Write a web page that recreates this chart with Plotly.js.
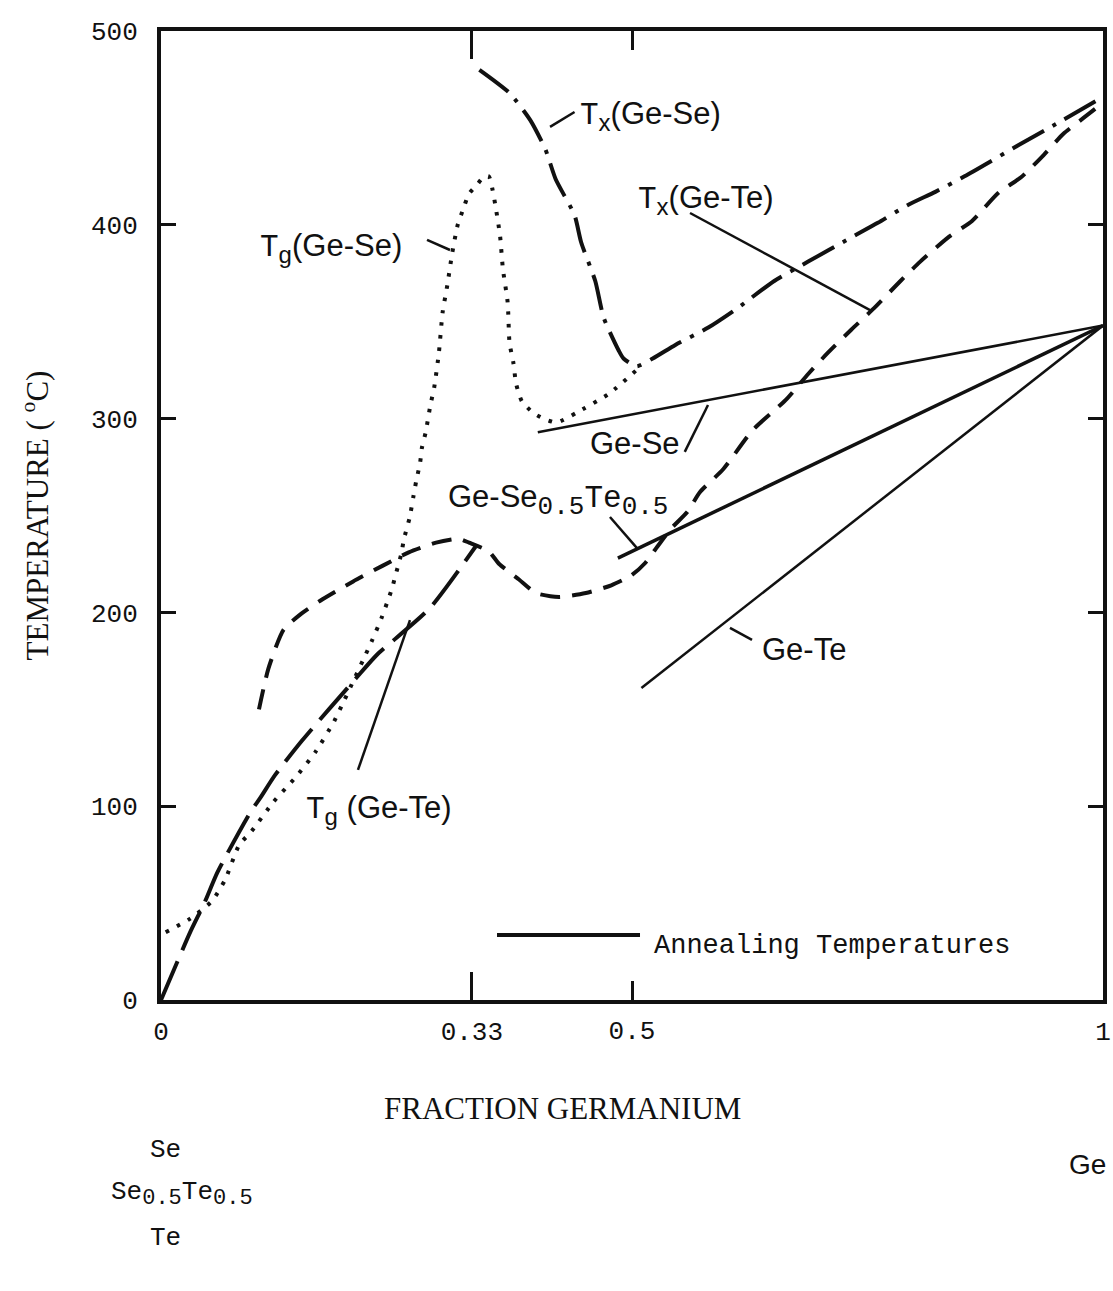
<!DOCTYPE html>
<html>
<head>
<meta charset="utf-8">
<script src="https://cdn.plot.ly/plotly-3.0.1.min.js"></script>
<style>html,body{margin:0;padding:0;background:#fff;}#chart{width:1113px;height:1291px;}</style>
</head>
<body>
<div id="chart"></div>
<script>
// ---- Data (fraction Ge, temperature °C) ----
var tgGeSeX = [0.005,0.031,0.054,0.068,0.083,0.096,0.119,0.143,0.164,0.184,0.192,0.217,0.2245,0.234,0.240,0.245,0.250,0.255,0.258,0.264,0.268,0.271,0.275,0.277,0.281,0.286,0.290,0.295,0.299,0.304,0.309,0.315,0.320,0.327,0.336,0.343,0.348,0.352,0.356,0.360,0.363,0.368,0.370,0.374,0.377,0.383,0.395,0.406,0.420,0.441,0.476,0.507];
var tgGeSeY = [35,42,51,62,80,87,102,115,128,144,152,178,186,197,205,212,221,230,238,249,260,268,277,285,293,307,316,334,355,369,385,400,407,416,421,425,425,418,407,394,377,360,339,329,318,309,303,300,298,303,313,326];

var tgGeTeX = [0,0.031,0.046,0.060,0.095,0.105,0.121,0.150,0.207,0.229,0.285,0.334];
var tgGeTeY = [0,35,50,66,97,104,116,134,166,178,202,234];

var txGeTeX = [0.104,0.114,0.130,0.148,0.169,0.204,0.235,0.263,0.292,0.316,0.327,0.348,0.359,0.380,0.398,0.4225,0.451,0.478,0.499,0.514,0.527,0.541,0.559,0.572,0.597,0.628,0.663,0.687,0.708,0.733,0.757,0.785,0.806,0.837,0.861,0.889,0.913,0.937,0.958,0.979,1.0];
var txGeTeY = [150,171,191,199,206,216,224,231,236,238,236,231.5,225,217,210,208,210,214,219,225.5,234,243,252,262,274,294,309.5,323,334,346,357,371,381,394,402,416.5,424.5,436,447,455,463];

var txGeSeX = [0.338,0.370,0.392,0.408,0.419,0.439,0.446,0.461,0.470,0.486,0.491,0.505,0.522,0.546,0.581,0.612,0.651,0.687,0.731,0.761,0.792,0.822,0.853,0.910,0.950,1.0];
var txGeSeY = [480,468,454,439,423.5,405,391,371,352,335,331,327,331,338,347,357,371,381,393,401,410,417,425,441,452,466];

var annealGeSeX = [0.40, 1.0],   annealGeSeY = [293, 348];
var annealGeSeTeX = [0.485, 1.0], annealGeSeTeY = [228, 348];
var annealGeTeX = [0.51, 1.0],   annealGeTeY = [161, 348];

var xTickVals = [0, 0.33, 1], xTickText = ['0', '0.33', '1'];
var xTickVals2 = [0.5], xTickText2 = ['0.5'];
var yTickVals = [0, 100, 200, 300, 400, 500];
var yTickText = ['0', '100', '200', '300', '400', '500'];

// ---- Fonts ----
var MONO = 'Liberation Mono, DejaVu Sans Mono, monospace';
var SANS = 'Liberation Sans, Arial, sans-serif';
var SERIF = 'Liberation Serif, Times New Roman, serif';
function mono(t){ return '<span style="font-family:' + MONO + '">' + t + '</span>'; }
function bigsub(t, px){ return '<sub><span style="font-size:' + px + 'px">' + t + '</span></sub>'; }

var BLK = '#111';

var traces = [
  {x: tgGeSeX, y: tgGeSeY, mode: 'lines', line: {color: BLK, width: 4, dash: '3.5px,9px', shape: 'spline', smoothing: 0.6}, hoverinfo: 'skip'},
  {x: tgGeTeX, y: tgGeTeY, mode: 'lines', line: {color: BLK, width: 4, dash: '42px,12px', shape: 'spline', smoothing: 0.6}, hoverinfo: 'skip'},
  {x: txGeTeX, y: txGeTeY, mode: 'lines', line: {color: BLK, width: 4, dash: '20px,12px', shape: 'spline', smoothing: 0.6}, hoverinfo: 'skip'},
  {x: txGeSeX, y: txGeSeY, mode: 'lines', line: {color: BLK, width: 4, dash: '36px,10px,4px,10px', shape: 'spline', smoothing: 0.6}, hoverinfo: 'skip'},
  {x: annealGeSeX, y: annealGeSeY, xaxis: 'x2', mode: 'lines', line: {color: BLK, width: 2.5}, hoverinfo: 'skip'},
  {x: annealGeSeTeX, y: annealGeSeTeY, xaxis: 'x2', mode: 'lines', line: {color: BLK, width: 3.5}, hoverinfo: 'skip'},
  {x: annealGeTeX, y: annealGeTeY, xaxis: 'x2', mode: 'lines', line: {color: BLK, width: 2.5}, hoverinfo: 'skip'}
];

function txt(x, y, text, size, family, extra){
  var a = {x: x, y: y, xref: 'x', yref: 'y', text: text, showarrow: false,
           xanchor: 'left', yanchor: 'middle', font: {family: family || SANS, size: size || 30, color: BLK}};
  if (extra) for (var k in extra) a[k] = extra[k];
  return a;
}
function ptxt(x, y, text, size, family, extra){
  var a = txt(x, y, text, size, family, extra);
  a.xref = 'paper'; a.yref = 'paper';
  return a;
}
function pointer(x0, y0, x1, y1, w){
  return {type: 'line', xref: 'x', yref: 'y', x0: x0, y0: y0, x1: x1, y1: y1,
          line: {color: BLK, width: w || 2.5}};
}

var annotations = [
  txt(0.443, 456, mono('T') + bigsub('x', 24) + '(Ge-Se)', 31),
  txt(0.504, 413, mono('T') + bigsub('x', 24) + '(Ge-Te)', 31),
  txt(0.103, 388, mono('T') + bigsub('g', 24) + '(Ge-Se)', 31),
  txt(0.453, 287, 'Ge-Se', 31),
  txt(0.303, 258, 'Ge-Se' + mono(bigsub('0.5', 26) + 'Te' + bigsub('0.5', 26)), 31),
  txt(0.636, 181, 'Ge-Te', 31),
  txt(0.152, 98, mono('T') + bigsub('g', 24) + ' (Ge-Te)', 31),
  txt(0.521, 28, 'Annealing Temperatures', 27, MONO),
  ptxt(0.4257, -0.1115, 'FRACTION GERMANIUM', 31, SERIF, {xanchor: 'center'}),
  ptxt(-0.014, -0.155, 'Se', 26, MONO),
  ptxt(-0.055, -0.200, 'Se' + bigsub('0.5', 22) + 'Te' + bigsub('0.5', 22), 26, MONO),
  ptxt(-0.014, -0.246, 'Te', 26, MONO),
  ptxt(0.962, -0.170, 'Ge', 28, SANS)
];

var shapes = [
  pointer(0.413, 450.5, 0.439, 458.2),
  pointer(0.5616, 406.1, 0.7527, 356),
  pointer(0.2824, 392.2, 0.3068, 387),
  pointer(0.556, 282.8, 0.5807, 307),
  pointer(0.4766, 249.2, 0.5053, 233.2),
  pointer(0.604, 192, 0.6274, 185.8),
  pointer(0.2091, 118.7, 0.2643, 196),
  pointer(0.3567, 33.5, 0.5085, 33.5, 4)
];

var layout = {
  width: 1113, height: 1291,
  margin: {l: 161, r: 10, t: 31, b: 291},
  paper_bgcolor: '#fff', plot_bgcolor: '#fff',
  showlegend: false,
  xaxis: {range: [0, 1], showgrid: false, zeroline: false,
          showline: true, linecolor: BLK, linewidth: 4, mirror: 'ticks',
          ticks: 'inside', ticklen: 28, tickwidth: 3, tickcolor: BLK,
          tickvals: xTickVals, ticktext: xTickText, ticklabelstandoff: 5,
          tickfont: {family: MONO, size: 26, color: BLK}},
  xaxis2: {overlaying: 'x', matches: 'x', range: [0, 1], showgrid: false, zeroline: false,
           showline: false, mirror: 'ticks', side: 'bottom',
           ticks: 'inside', ticklen: 19, tickwidth: 3, tickcolor: BLK,
           tickvals: xTickVals2, ticktext: xTickText2, ticklabelstandoff: 12,
           tickfont: {family: MONO, size: 26, color: BLK}},
  yaxis: {range: [0, 500], showgrid: false, zeroline: false,
          showline: true, linecolor: BLK, linewidth: 4, mirror: 'ticks',
          ticks: 'inside', ticklen: 15, tickwidth: 3, tickcolor: BLK,
          tickvals: yTickVals, ticktext: yTickText, ticklabelstandoff: 14,
          tickfont: {family: MONO, size: 26, color: BLK},
          title: {text: 'TEMPERATURE ( <sup>o</sup>C)', standoff: 34,
                  font: {family: SERIF, size: 31, color: BLK}}},
  annotations: annotations,
  shapes: shapes
};

Plotly.newPlot('chart', traces, layout, {staticPlot: true, displayModeBar: false});
</script>
</body>
</html>
